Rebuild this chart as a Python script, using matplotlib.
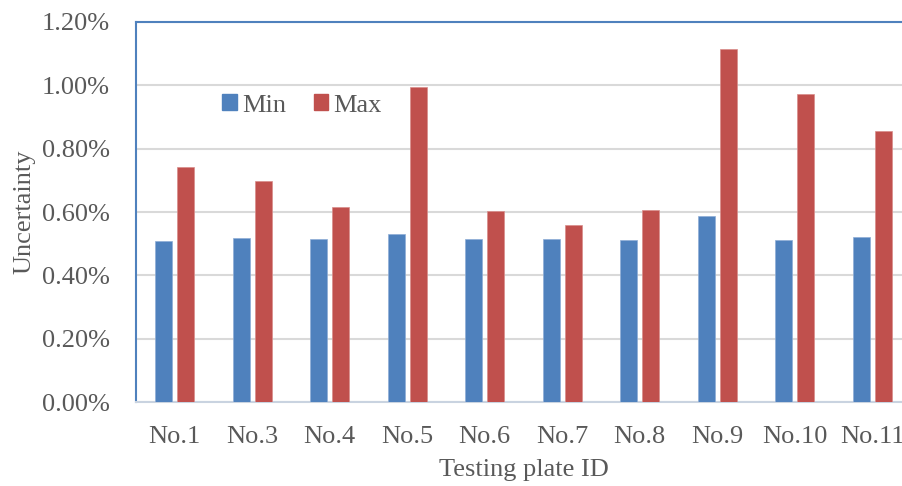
import matplotlib.pyplot as plt
import numpy as np
from matplotlib.patches import Patch
from matplotlib.ticker import FuncFormatter

plates = ["No.1", "No.3", "No.4", "No.5", "No.6", "No.7", "No.8", "No.9", "No.10", "No.11"]
min_unc = [0.509, 0.517, 0.514, 0.530, 0.515, 0.515, 0.512, 0.588, 0.511, 0.521]
max_unc = [0.741, 0.698, 0.616, 0.995, 0.603, 0.559, 0.605, 1.115, 0.973, 0.857]

blue = "#4F81BD"
red = "#C0504D"
grey_txt = "#595959"

plt.rcParams["font.family"] = ["Liberation Serif", "DejaVu Serif"]
plt.rcParams["font.size"] = 19

fig = plt.figure(figsize=(9.03, 4.86), dpi=100)
ax = fig.add_axes([136 / 903, 1 - 402 / 486, 775 / 903, 380 / 486])

x = np.arange(len(plates))
w = 0.22
ax.bar(x - 0.143, min_unc, w, color=blue, edgecolor="#8EADD6", linewidth=0.5, zorder=3)
ax.bar(x + 0.143, max_unc, w, color=red, edgecolor="#D98D8B", linewidth=0.5, zorder=3)

ax.set_xlim(-0.5, len(plates) - 0.5)
ax.set_ylim(0, 1.2)
ax.set_yticks(np.arange(0, 1.21, 0.2))
ax.yaxis.set_major_formatter(FuncFormatter(lambda v, p: f"{v:.2f}%"))
ax.set_xticks(x)
ax.set_xticklabels(plates)
ax.grid(axis="y", color="#D9D9D9", linewidth=1.5, zorder=0)
ax.tick_params(length=0, colors=grey_txt)
ax.tick_params(axis="x", pad=17)
ax.tick_params(axis="y", pad=19)

ax.spines["left"].set_color(blue)
ax.spines["top"].set_color(blue)
ax.spines["right"].set_color(blue)
ax.spines["left"].set_linewidth(1.5)
ax.spines["top"].set_linewidth(1.5)
ax.spines["bottom"].set_color("#C9D3E0")
ax.spines["bottom"].set_linewidth(1.5)

ax.set_xlabel("Testing plate ID", color=grey_txt, labelpad=8)
ax.set_ylabel("Uncertainty", color=grey_txt, labelpad=4)

handles = [Patch(color=blue, label="Min"), Patch(color=red, label="Max")]
ax.legend(handles=handles, loc="center left", bbox_to_anchor=(0.094, 0.78),
          ncol=2, frameon=False, handlelength=0.55, handleheight=0.55,
          handletextpad=0.2, columnspacing=1.05, borderpad=0, labelcolor=grey_txt)

fig.savefig("out.png", dpi=100)
